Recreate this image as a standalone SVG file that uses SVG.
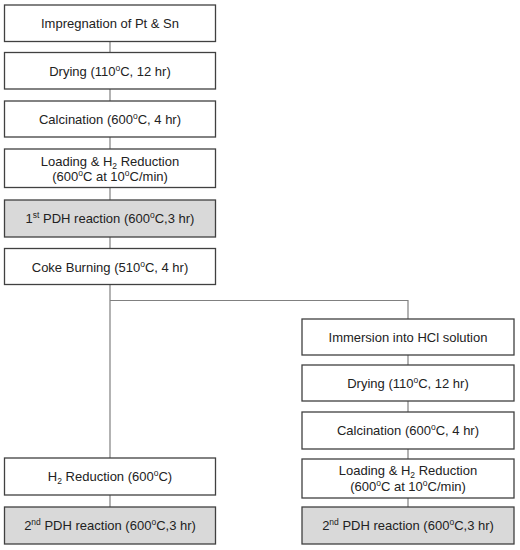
<svg xmlns="http://www.w3.org/2000/svg" width="520" height="550" viewBox="0 0 520 550">
<style>
.b{fill:#fff;stroke:#404040;stroke-width:1.3}
.g{fill:#d9d9d9;stroke:#404040;stroke-width:1.3}
.t{font-family:"Liberation Sans",Arial,sans-serif;font-size:13px;fill:#222;text-anchor:middle}
.c{fill:none;stroke:#808080;stroke-width:1.2}
.sup{font-size:8.5px}
</style>
<rect width="520" height="550" fill="#fff"/>
<g id="connectors">
<path class="c" d="M110 41.5V52.5M110 89V101M110 137V149M110 187.5V200M110 237V248.5M110 284.5V458M110 495V507"/>
<path class="c" d="M110 300.5H408V319M408 355V365M408 401V412M408 449V459M408 498V507"/>
</g>
<g id="n1"><rect class="b" x="4.5" y="5" width="211" height="36.5"/><text class="t" x="110" y="28">Impregnation of Pt &amp; Sn</text></g>
<g id="n2"><rect class="b" x="4.5" y="52.5" width="211" height="36.5"/><text class="t" x="110" y="75.5">Drying (110<tspan class="sup" dy="-5">o</tspan><tspan dy="5">C, 12 hr)</tspan></text></g>
<g id="n3"><rect class="b" x="4.5" y="101" width="211" height="36"/><text class="t" x="110" y="124">Calcination (600<tspan class="sup" dy="-5">o</tspan><tspan dy="5">C, 4 hr)</tspan></text></g>
<g id="n4"><rect class="b" x="4.5" y="149" width="211" height="38.5"/><text class="t" x="110" y="165.5">Loading &amp; H<tspan class="sup" dy="3">2</tspan><tspan dy="-3"> Reduction</tspan></text><text class="t" x="110" y="181">(600<tspan class="sup" dy="-5">o</tspan><tspan dy="5">C at 10</tspan><tspan class="sup" dy="-5">o</tspan><tspan dy="5">C/min)</tspan></text></g>
<g id="n5"><rect class="g" x="4.5" y="200" width="211" height="37"/><text class="t" x="110" y="223">1<tspan class="sup" dy="-5">st</tspan><tspan dy="5"> PDH reaction (600</tspan><tspan class="sup" dy="-5">o</tspan><tspan dy="5">C,3 hr)</tspan></text></g>
<g id="n6"><rect class="b" x="4.5" y="248.5" width="211" height="36"/><text class="t" x="110" y="271.5">Coke Burning (510<tspan class="sup" dy="-5">o</tspan><tspan dy="5">C, 4 hr)</tspan></text></g>
<g id="n7"><rect class="b" x="4.5" y="458" width="211" height="37"/><text class="t" x="110" y="481">H<tspan class="sup" dy="3">2</tspan><tspan dy="-3"> Reduction (600</tspan><tspan class="sup" dy="-5">o</tspan><tspan dy="5">C)</tspan></text></g>
<g id="n8"><rect class="g" x="4.5" y="507" width="211" height="37"/><text class="t" x="110" y="530">2<tspan class="sup" dy="-5">nd</tspan><tspan dy="5"> PDH reaction (600</tspan><tspan class="sup" dy="-5">o</tspan><tspan dy="5">C,3 hr)</tspan></text></g>
<g id="n9"><rect class="b" x="302" y="319" width="212" height="36"/><text class="t" x="408" y="342">Immersion into HCl solution</text></g>
<g id="n10"><rect class="b" x="302" y="365" width="212" height="36"/><text class="t" x="408" y="388">Drying (110<tspan class="sup" dy="-5">o</tspan><tspan dy="5">C, 12 hr)</tspan></text></g>
<g id="n11"><rect class="b" x="302" y="412" width="212" height="37"/><text class="t" x="408" y="435">Calcination (600<tspan class="sup" dy="-5">o</tspan><tspan dy="5">C, 4 hr)</tspan></text></g>
<g id="n12"><rect class="b" x="302" y="459" width="212" height="39"/><text class="t" x="408" y="475">Loading &amp; H<tspan class="sup" dy="3">2</tspan><tspan dy="-3"> Reduction</tspan></text><text class="t" x="408" y="490.5">(600<tspan class="sup" dy="-5">o</tspan><tspan dy="5">C at 10</tspan><tspan class="sup" dy="-5">o</tspan><tspan dy="5">C/min)</tspan></text></g>
<g id="n13"><rect class="g" x="302" y="507" width="212" height="37"/><text class="t" x="408" y="530">2<tspan class="sup" dy="-5">nd</tspan><tspan dy="5"> PDH reaction (600</tspan><tspan class="sup" dy="-5">o</tspan><tspan dy="5">C,3 hr)</tspan></text></g>
</svg>
